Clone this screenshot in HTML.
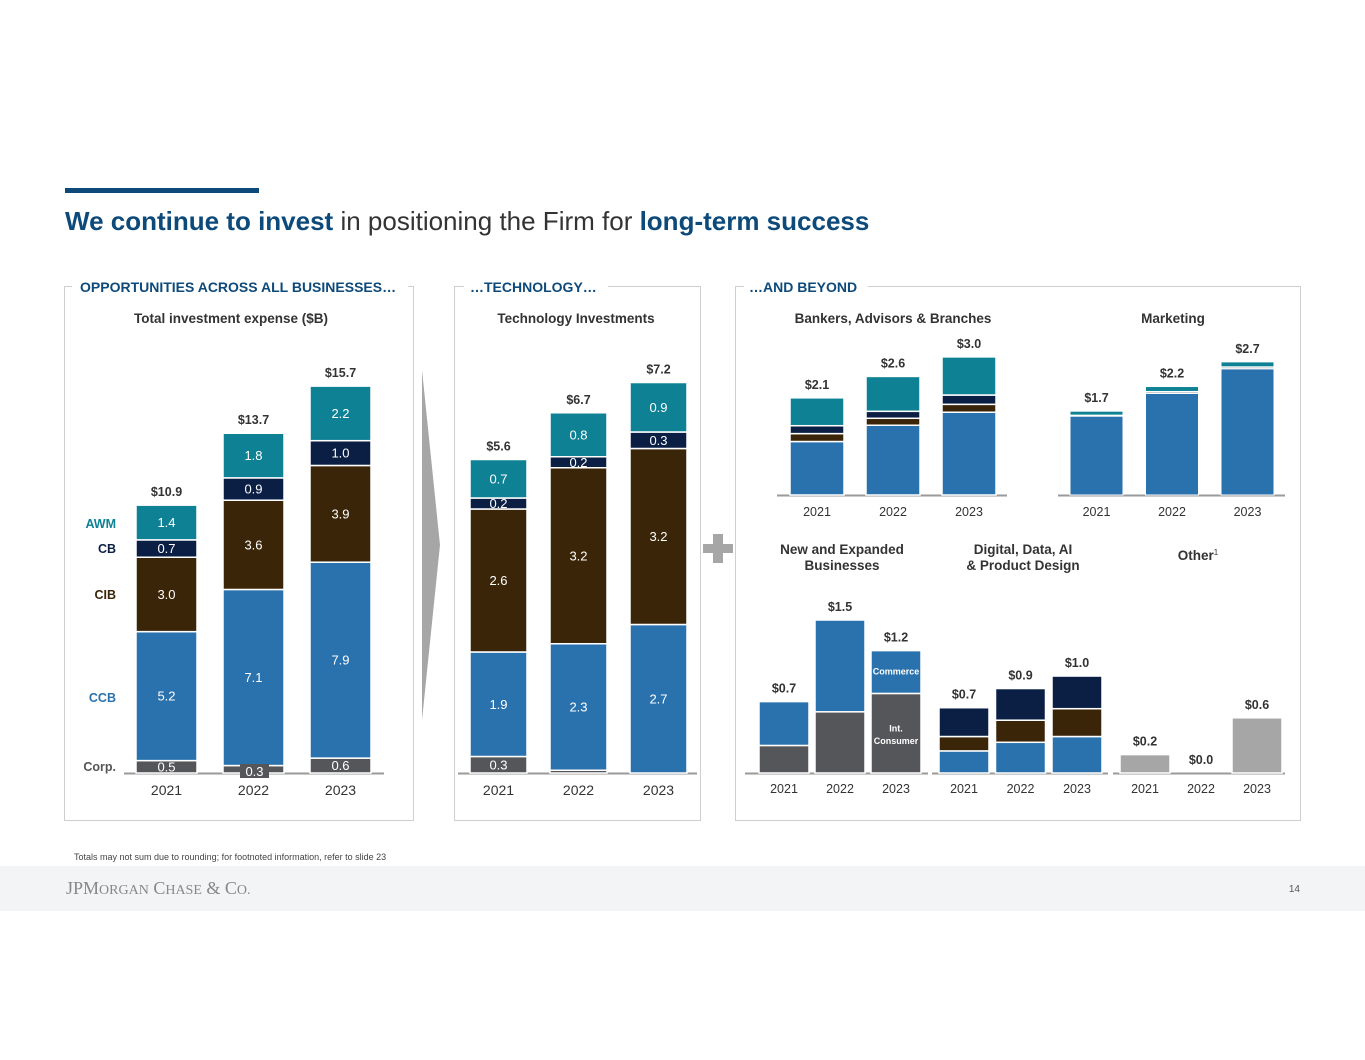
<!DOCTYPE html>
<html><head><meta charset="utf-8">
<style>
html,body{margin:0;padding:0;background:#fff;}
body{width:1365px;height:1055px;position:relative;overflow:hidden;font-family:"Liberation Sans",Arial,sans-serif;}
svg text{font-family:"Liberation Sans",Arial,sans-serif;}
</style></head>
<body>
<svg id="chart" width="1365" height="1055" viewBox="0 0 1365 1055" xmlns="http://www.w3.org/2000/svg">
<rect x="65" y="188" width="194" height="5" fill="#0d4a7a"/>
<text x="65" y="230" font-size="26" fill="#0d4a7a"><tspan font-weight="bold">We continue to invest</tspan><tspan fill="#333"> in positioning the Firm for </tspan><tspan font-weight="bold">long-term success</tspan></text>

<rect x="64.5" y="286.5" width="349" height="534" fill="none" stroke="#cfcfcf"/>
<rect x="454.5" y="286.5" width="246" height="534" fill="none" stroke="#cfcfcf"/>
<rect x="735.5" y="286.5" width="565" height="534" fill="none" stroke="#cfcfcf"/>
<rect x="72" y="278" width="336" height="18" fill="#fff"/>
<rect x="464" y="278" width="144" height="18" fill="#fff"/>
<rect x="744" y="278" width="124" height="18" fill="#fff"/>
<text x="80" y="292" font-size="14" font-weight="bold" fill="#0d4a7a">OPPORTUNITIES ACROSS ALL BUSINESSES…</text>
<text x="470" y="292" font-size="14" font-weight="bold" fill="#0d4a7a">…TECHNOLOGY…</text>
<text x="749" y="292" font-size="14" font-weight="bold" fill="#0d4a7a">…AND BEYOND</text>

<text x="231" y="323" font-size="13.5" font-weight="bold" fill="#333" text-anchor="middle">Total investment expense ($B)</text>
<text x="576" y="323" font-size="13.5" font-weight="bold" fill="#333" text-anchor="middle">Technology Investments</text>
<text x="893" y="323" font-size="13.5" font-weight="bold" fill="#333" text-anchor="middle">Bankers, Advisors &amp; Branches</text>
<text x="1173" y="323" font-size="13.5" font-weight="bold" fill="#333" text-anchor="middle">Marketing</text>
<text x="842" y="554" font-size="13.5" font-weight="bold" fill="#333" text-anchor="middle"><tspan x="842">New and Expanded</tspan><tspan x="842" dy="16">Businesses</tspan></text>
<text x="1023" y="554" font-size="13.5" font-weight="bold" fill="#333" text-anchor="middle"><tspan x="1023">Digital, Data, AI</tspan><tspan x="1023" dy="16">&amp; Product Design</tspan></text>
<text x="1198" y="560" font-size="13.5" font-weight="bold" fill="#333" text-anchor="middle">Other<tspan font-size="8" dy="-5" font-weight="normal">1</tspan></text>

<text x="116" y="528" font-size="12.5" font-weight="bold" fill="#0e8294" text-anchor="end">AWM</text>
<text x="116" y="553" font-size="12.5" font-weight="bold" fill="#0b1f45" text-anchor="end">CB</text>
<text x="116" y="599" font-size="12.5" font-weight="bold" fill="#3b2508" text-anchor="end">CIB</text>
<text x="116" y="702" font-size="12.5" font-weight="bold" fill="#2a72ad" text-anchor="end">CCB</text>
<text x="116" y="771" font-size="12.5" font-weight="bold" fill="#555" text-anchor="end">Corp.</text>

<polygon points="422,370 440,545 422,720" fill="#a6a6a6"/>
<rect x="703" y="544" width="30" height="9" fill="#a6a6a6"/>
<rect x="713" y="534" width="10" height="29" fill="#a6a6a6"/>

<g id="plots"></g>

<text x="74" y="860" font-size="9" fill="#444">Totals may not sum due to rounding; for footnoted information, refer to slide 23</text>
<rect x="0" y="866" width="1365" height="45" fill="#f3f4f6"/>
<text x="66" y="894" style="font-family:'Liberation Serif',serif" font-size="18" fill="#888">JPM<tspan font-size="14">ORGAN</tspan> C<tspan font-size="14">HASE</tspan> &amp; C<tspan font-size="14">O.</tspan></text>
<text x="1300" y="892" font-size="10" fill="#555" text-anchor="end">14</text>
</svg>
<script>
const years = ["2021","2022","2023"];
const totCorp = [0.5, 0.3, 0.6];
const totCCB = [5.2, 7.1, 7.9];
const totCIB = [3.0, 3.6, 3.9];
const totCB = [0.7, 0.9, 1.0];
const totAWM = [1.4, 1.8, 2.2];
const totLabels = ["$10.9","$13.7","$15.7"];
const techCorp = [0.3, 0.05, 0];
const techCCB = [1.9, 2.3, 2.7];
const techCIB = [2.6, 3.2, 3.2];
const techCB = [0.2, 0.2, 0.3];
const techAWM = [0.7, 0.8, 0.9];
const techLabels = ["$5.6","$6.7","$7.2"];
const bankCCB = [1.15, 1.5, 1.78];
const bankCIB = [0.17, 0.15, 0.17];
const bankCB = [0.17, 0.15, 0.2];
const bankAWM = [0.6, 0.75, 0.82];
const bankLabels = ["$2.1","$2.6","$3.0"];
const mktCCB = [1.6, 2.06, 2.56];
const mktOther = [0.02, 0.04, 0.04];
const mktAWM = [0.08, 0.1, 0.1];
const mktLabels = ["$1.7","$2.2","$2.7"];
const newIntl = [0.27, 0.6, 0.78];
const newCommerce = [0.43, 0.9, 0.42];
const newLabels = ["$0.7","$1.5","$1.2"];
const digCCB = [0.23, 0.32, 0.38];
const digCIB = [0.15, 0.23, 0.29];
const digCB = [0.3, 0.33, 0.34];
const digLabels = ["$0.7","$0.9","$1.0"];
const otherVals = [0.2, 0.0, 0.6];
const otherLabels = ["$0.2","$0.0","$0.6"];

const C = {corp:"#55565a",ccb:"#2a72ad",cib:"#3b2508",cb:"#0b1f45",awm:"#0e8294",gray:"#a6a6a6",lt:"#c9ccd2"};
const NS="http://www.w3.org/2000/svg";
const g=document.getElementById('plots');
function mk(tag,attrs){const e=document.createElementNS(NS,tag);for(const k in attrs)e.setAttribute(k,attrs[k]);g.appendChild(e);return e;}

function chart(name,cfg){
  const base=cfg.base, sc=cfg.scale;
  const yv=v=>base-v*sc;
  const ax=mk('line',{x1:cfg.axisX[0],x2:cfg.axisX[1],y1:base+0.5,y2:base+0.5,stroke:"#9a9a9a","stroke-width":2});
  
  
  years.forEach((yr,i)=>{
    const x=cfg.x0+i*cfg.step, w=cfg.w;
    let acc=0;
    cfg.series.forEach(s=>{
      const v=s.vals[i];
      if(v<=0){return;}
      const y0=yv(acc), y1=yv(acc+v);
      const r=mk('rect',{x:x,y:y1,width:w,height:Math.max(0.5,y0-y1),fill:s.color,stroke:"#fff","stroke-width":cfg.sw||1.5});
      
      
      if(s.labels){
        const lab=s.labels(v,i);
        if(lab){
          const t=mk('text',{x:x+w/2,y:(y0+y1)/2+4.5+(s.dy||0),"font-size":s.fs||13,fill:s.tc||"#fff","text-anchor":"middle","font-weight":s.fw||"normal"});
          t.textContent=lab;
          
          
        }
      }
      acc+=v;
    });
    const tot=cfg.series.reduce((a,s)=>a+s.vals[i],0);
    const tl=mk('text',{x:x+w/2,y:yv(tot)-9,"font-size":12.5,"font-weight":"bold",fill:"#333","text-anchor":"middle"});
    tl.textContent=cfg.totals[i];
    
    
    const xl=mk('text',{x:x+w/2,y:base+cfg.yearDy,"font-size":cfg.yfs||14,fill:"#333","text-anchor":"middle"});
    xl.textContent=yr;
    
    
  });
}
const f1=v=>v.toFixed(1);
chart('total',{base:773,scale:24.8,x0:136,step:87,w:61,axisX:[124,384],yearDy:22,totals:totLabels,series:[
 {key:'corp',vals:totCorp,color:C.corp,labels:(v,i)=>i==1?null:f1(v)},
 {key:'ccb',vals:totCCB,color:C.ccb,labels:f1},
 {key:'cib',vals:totCIB,color:C.cib,labels:f1},
 {key:'cb',vals:totCB,color:C.cb,labels:f1},
 {key:'awm',vals:totAWM,color:C.awm,labels:f1}]});
(function(){const i=1;const r=mk('rect',{x:240,y:764,width:29,height:14,fill:C.corp});


const t=mk('text',{x:254.5,y:776,"font-size":13,fill:"#fff","text-anchor":"middle"});t.textContent=f1(totCorp[i]);

})();

chart('tech',{base:773,scale:55,x0:470,step:80,w:57,axisX:[458,697],yearDy:22,totals:techLabels,series:[
 {key:'corp',vals:techCorp,color:C.corp,labels:(v)=>v>=0.1?f1(v):null},
 {key:'ccb',vals:techCCB,color:C.ccb,labels:f1},
 {key:'cib',vals:techCIB,color:C.cib,labels:f1},
 {key:'cb',vals:techCB,color:C.cb,labels:f1},
 {key:'awm',vals:techAWM,color:C.awm,labels:f1}]});

chart('bankers',{base:495,scale:46.5,x0:790,step:76,w:54,axisX:[777,1007],yearDy:21,yfs:12.5,totals:bankLabels,series:[
 {key:'ccb',vals:bankCCB,color:C.ccb},{key:'cib',vals:bankCIB,color:C.cib},
 {key:'cb',vals:bankCB,color:C.cb},{key:'awm',vals:bankAWM,color:C.awm}]});

chart('marketing',{base:495,scale:49.3,x0:1070,step:75.5,w:53,axisX:[1058,1285],yearDy:21,yfs:12.5,sw:1,totals:mktLabels,series:[
 {key:'ccb',vals:mktCCB,color:C.ccb},{key:'other',vals:mktOther,color:C.lt},{key:'awm',vals:mktAWM,color:C.awm}]});

chart('new-businesses',{base:773,scale:102,x0:759,step:56,w:50,axisX:[745,928],yearDy:20,yfs:12.5,totals:newLabels,series:[
 {key:'intl-consumer',vals:newIntl,color:C.corp,fs:9,fw:"bold",labels:(v,i)=>i==2?"Int.":null,dy:-6},
 {key:'commerce',vals:newCommerce,color:C.ccb,fs:9,fw:"bold",labels:(v,i)=>i==2?"Commerce":null,dy:-2}]});
(function(){const t=mk('text',{x:896,y:744,"font-size":9,"font-weight":"bold",fill:"#fff","text-anchor":"middle"});t.textContent="Consumer";

})();

chart('digital',{base:773,scale:96,x0:939,step:56.5,w:50,axisX:[932,1108],yearDy:20,yfs:12.5,totals:digLabels,series:[
 {key:'ccb',vals:digCCB,color:C.ccb},{key:'cib',vals:digCIB,color:C.cib},{key:'cb',vals:digCB,color:C.cb}]});

chart('other',{base:773,scale:92,x0:1120,step:56,w:50,axisX:[1113,1285],yearDy:20,yfs:12.5,totals:otherLabels,series:[
 {key:'other',vals:otherVals,color:C.gray}]});
</script>
</body></html>
